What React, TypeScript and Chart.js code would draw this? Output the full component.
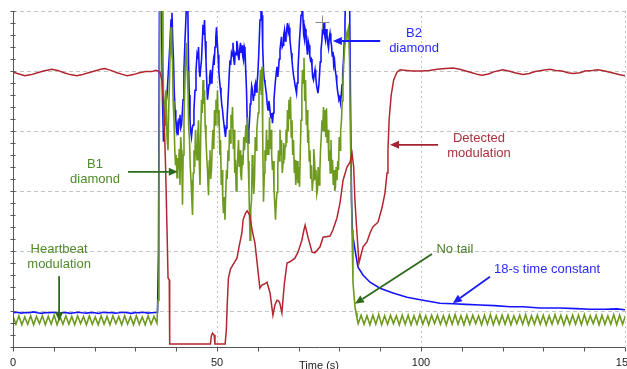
import React, { useEffect, useRef } from "react";
import { Chart, registerables } from "chart.js";

Chart.register(...registerables);

// ---------- axes ----------
const X_MIN = 0;
const X_MAX = 150;
const Y_MIN = -0.6;
const Y_MAX = 5;
const X_TICK_LABELS = [0, 50, 100, 150];
const X_MINOR_STEP = 10;
const Y_MINOR_STEP = 0.2;
const Y_GRID = [0, 1, 2, 3, 4, 5];
const X_GRID = [50, 100, 150];
const X_TITLE = "Time (s)";

// ---------- B1 diamond (green) ----------
const HEARTBEAT_STEP = 0.72;
const GREEN_PRE_START = 0;
const greenPre = [
  -0.09, -0.22, -0.08, -0.23, -0.1, -0.22, -0.08, -0.23, -0.09, -0.21,
  -0.08, -0.23, -0.09, -0.22, -0.07, -0.23, -0.09, -0.22, -0.08, -0.22,
  -0.09, -0.23, -0.08, -0.21, -0.09, -0.23, -0.08, -0.22, -0.1, -0.23,
  -0.08, -0.22, -0.09, -0.23, -0.08, -0.21, -0.09, -0.23, -0.08, -0.22,
  -0.09, -0.23, -0.08, -0.22, -0.1, -0.23, -0.08, -0.22, -0.09, -0.2,
];
const greenBurst: number[][] = [
  [35.54, 0.18], [35.78, 1.85], [36.03, 5.52], [36.52, 5.52], [36.76, 4.18], [36.95, 3.4], [37.13, 3.02],
  [37.3, 3.5], [37.5, 3.68], [37.75, 2.9], [37.99, 2.68], [38.15, 3.3], [38.36, 3.85], [38.55, 4.4],
  [38.73, 4.73], [38.9, 4.3], [39.09, 4.18], [39.25, 3.5], [39.46, 3.18], [39.65, 2.7], [39.83, 2.43],
  [40.0, 2.6], [40.2, 2.22], [40.38, 2.55], [40.56, 2.35], [40.75, 2.7], [40.93, 2.1], [41.1, 2.9],
  [41.3, 2.68], [41.42, 2.3], [41.54, 1.77], [41.7, 2.6], [41.91, 3.18], [42.1, 3.7], [42.28, 4.18],
  [42.52, 4.47], [42.7, 4.0], [42.89, 3.68], [43.05, 3.1], [43.26, 2.85], [43.45, 2.4], [43.63, 2.18],
  [43.8, 1.9], [44.0, 1.6], [44.18, 2.3], [44.36, 2.68], [44.55, 2.4], [44.73, 3.02], [44.9, 2.75],
  [45.1, 2.52], [45.3, 2.95], [45.47, 3.18], [45.65, 2.5], [45.83, 2.1], [46.0, 2.9], [46.2, 3.52],
  [46.4, 3.3], [46.57, 3.85], [46.75, 3.45], [46.94, 3.68], [47.1, 3.1], [47.3, 2.85], [47.5, 2.55],
  [47.67, 2.35], [47.8, 2.1], [47.92, 1.93], [48.1, 2.5], [48.28, 2.68], [48.45, 2.2], [48.65, 2.35],
  [48.85, 2.8], [49.02, 3.02], [49.2, 2.7], [49.39, 3.35], [49.55, 3.1], [49.75, 3.52], [49.95, 3.3],
  [50.12, 3.68], [50.3, 3.1], [50.49, 3.35], [50.7, 2.6], [50.86, 2.85], [51.05, 2.1], [51.23, 2.35],
  [51.4, 1.9], [51.59, 1.63], [51.78, 1.9], [51.96, 1.52], [52.15, 2.0], [52.33, 2.35], [52.5, 2.2],
  [52.7, 2.68], [52.9, 2.5], [53.06, 3.02], [53.25, 2.8], [53.43, 3.27], [53.6, 3.05], [53.8, 3.4],
  [54.0, 2.7], [54.17, 3.02], [54.35, 2.3], [54.53, 2.52], [54.7, 2.0], [54.9, 2.3], [55.1, 2.6],
  [55.27, 2.85], [55.45, 2.4], [55.64, 2.68], [55.8, 2.3], [56.0, 2.18], [56.2, 2.6], [56.37, 2.43],
  [56.55, 2.9], [56.74, 2.68], [56.9, 2.85], [57.11, 3.1], [57.3, 2.8], [57.48, 3.23], [57.65, 2.5],
  [57.84, 2.02], [58.09, 1.18], [58.28, 1.7], [58.46, 1.85], [58.65, 2.6], [58.82, 2.43], [59.0, 1.95],
  [59.19, 2.18], [59.38, 2.9], [59.56, 2.68], [59.75, 3.0], [59.93, 3.18], [60.1, 3.3], [60.29, 3.6],
  [60.5, 3.8], [60.66, 4.02], [60.85, 3.6], [61.03, 4.07], [61.2, 2.9], [61.4, 1.82], [61.6, 2.3],
  [61.76, 2.68], [61.95, 2.5], [62.13, 3.02], [62.3, 2.6], [62.5, 2.85], [62.7, 2.6], [62.87, 3.23],
  [63.05, 2.7], [63.24, 3.02], [63.4, 2.6], [63.6, 2.35], [63.8, 2.5], [63.97, 2.02], [64.15, 1.8],
  [64.34, 1.52], [64.5, 1.8], [64.71, 1.98], [64.9, 2.4], [65.07, 2.68], [65.25, 2.5], [65.44, 3.02],
  [65.6, 2.6], [65.81, 2.85], [66.0, 2.3], [66.18, 2.47], [66.35, 2.8], [66.54, 2.52], [66.7, 2.75],
  [66.91, 3.02], [67.1, 2.8], [67.28, 3.35], [67.45, 3.0], [67.65, 3.52], [67.85, 3.2], [68.01, 3.57],
  [68.2, 2.9], [68.38, 3.18], [68.55, 2.6], [68.75, 2.85], [68.95, 2.3], [69.12, 2.52], [69.3, 2.1],
  [69.49, 2.27], [69.65, 2.5], [69.85, 2.13], [70.05, 2.4], [70.22, 2.07], [70.4, 2.6], [70.59, 3.18],
  [70.8, 3.7], [70.96, 4.02], [71.15, 3.8], [71.32, 4.22], [71.5, 3.5], [71.69, 3.85], [71.9, 3.1],
  [72.06, 3.35], [72.25, 2.8], [72.43, 3.02], [72.6, 2.5], [72.79, 2.68], [72.95, 2.2], [73.16, 2.43],
  [73.35, 2.0], [73.53, 2.18], [73.7, 2.7], [73.9, 2.52], [74.1, 2.2], [74.26, 2.35], [74.45, 1.95],
  [74.63, 2.02], [74.8, 2.4], [75.0, 2.1], [75.2, 2.3], [75.37, 2.68], [75.55, 2.9], [75.74, 3.18],
  [75.9, 3.0], [76.1, 3.4], [76.3, 3.0], [76.47, 3.35], [76.65, 2.9], [76.84, 3.38], [77.0, 2.8],
  [77.21, 3.02], [77.4, 2.5], [77.57, 2.68], [77.75, 2.3], [77.94, 2.85], [78.1, 2.3], [78.31, 2.52],
  [78.5, 2.1], [78.68, 2.35], [78.85, 2.0], [79.04, 2.07], [79.2, 2.4], [79.41, 2.18], [79.6, 2.5],
  [79.78, 2.35], [79.95, 2.9], [80.15, 2.68], [80.3, 3.0], [80.51, 3.18], [80.7, 3.5], [80.88, 3.85],
  [81.05, 4.1], [81.25, 4.35], [81.45, 4.5], [81.62, 4.6], [81.8, 4.5], [81.99, 4.65], [82.23, 4.72],
  [82.48, 4.18], [82.72, 2.85], [83.09, 1.35], [83.33, 0.47], [83.82, 0.07], [84.07, -0.03], [84.31, -0.12],
];
const GREEN_POST_START = 84.6;
const greenPost = [
  -0.21, -0.07, -0.22, -0.08, -0.23, -0.07, -0.22, -0.06, -0.23, -0.08,
  -0.22, -0.07, -0.21, -0.08, -0.23, -0.07, -0.22, -0.07, -0.23, -0.08,
  -0.22, -0.06, -0.22, -0.08, -0.23, -0.07, -0.21, -0.07, -0.22, -0.08,
  -0.23, -0.07, -0.22, -0.06, -0.22, -0.08, -0.23, -0.07, -0.22, -0.07,
  -0.21, -0.08, -0.23, -0.07, -0.22, -0.06, -0.23, -0.08, -0.22, -0.07,
  -0.22, -0.07, -0.23, -0.08, -0.21, -0.07, -0.22, -0.06, -0.23, -0.08,
  -0.22, -0.07, -0.22, -0.07, -0.23, -0.08, -0.22, -0.06, -0.21, -0.07,
  -0.23, -0.08, -0.22, -0.07, -0.22, -0.07, -0.23, -0.06, -0.22, -0.08,
  -0.21, -0.07, -0.23, -0.07, -0.22, -0.08, -0.22, -0.06, -0.23, -0.07,
  -0.22, -0.08,
];

// ---------- B2 diamond (blue) ----------
const BLUE_PRE_START = 0;
const BLUE_PRE_STEP = 1;
const bluePre = [
  -0.03, -0.02, -0.035, -0.025, -0.03, -0.015, -0.03, -0.04, -0.025, -0.03,
  -0.02, -0.035, -0.03, -0.025, -0.04, -0.03, -0.02, -0.03, -0.035, -0.025,
  -0.03, -0.04, -0.02, -0.03, -0.025, -0.035, -0.03, -0.02, -0.03, -0.04,
  -0.025, -0.03, -0.02, -0.035, -0.03, -0.025,
];
const blueBurst: number[][] = [
  [35.42, -0.02], [35.66, 1.02], [35.91, 5.52], [36.27, 5.68], [36.64, 3.52], [36.89, 2.82], [37.05, 3.1],
  [37.25, 3.18], [37.5, 3.45], [37.75, 3.6], [38.0, 3.9], [38.24, 4.18], [38.5, 4.5], [38.73, 4.85],
  [38.97, 4.97], [39.15, 4.5], [39.34, 4.18], [39.5, 3.7], [39.71, 3.35], [39.9, 3.2], [40.07, 3.02],
  [40.25, 3.1], [40.44, 2.93], [40.7, 3.2], [40.93, 3.27], [41.1, 3.05], [41.3, 3.1], [41.5, 3.3],
  [41.67, 3.52], [41.9, 4.0], [42.16, 4.52], [42.52, 5.1], [42.77, 5.52], [43.01, 4.18], [43.2, 3.6],
  [43.38, 3.18], [43.55, 3.0], [43.75, 2.9], [43.95, 3.05], [44.12, 3.1], [44.35, 3.35], [44.61, 3.68],
  [44.85, 4.0], [45.1, 4.27], [45.3, 4.2], [45.47, 4.4], [45.65, 4.0], [45.83, 3.9], [46.0, 4.05],
  [46.2, 4.18], [46.4, 4.5], [46.57, 4.77], [46.75, 4.6], [46.94, 4.85], [47.1, 4.5], [47.3, 4.18],
  [47.5, 3.8], [47.67, 3.52], [47.85, 3.65], [48.04, 3.77], [48.2, 3.9], [48.41, 4.02], [48.6, 3.8],
  [48.77, 3.85], [48.95, 4.05], [49.14, 4.18], [49.3, 4.1], [49.51, 4.4], [49.7, 4.55], [49.88, 4.73],
  [50.05, 4.5], [50.25, 4.27], [50.45, 4.0], [50.61, 3.85], [50.8, 3.72], [50.98, 3.6], [51.15, 3.45],
  [51.35, 3.35], [51.55, 3.2], [51.72, 3.1], [51.9, 3.0], [52.08, 2.9], [52.25, 3.05], [52.45, 3.18],
  [52.65, 3.45], [52.82, 3.68], [53.0, 3.95], [53.19, 4.18], [53.35, 4.1], [53.55, 4.3], [53.75, 4.25],
  [53.92, 4.47], [54.1, 4.2], [54.29, 4.1], [54.45, 4.3], [54.66, 4.27], [54.85, 4.5], [55.02, 4.43],
  [55.2, 4.25], [55.39, 4.18], [55.55, 4.35], [55.76, 4.47], [55.95, 4.3], [56.13, 4.43], [56.3, 4.25],
  [56.5, 4.18], [56.7, 4.4], [56.86, 4.35], [57.05, 4.0], [57.23, 3.68], [57.4, 3.2], [57.6, 2.8],
  [57.8, 3.0], [57.97, 3.18], [58.15, 3.45], [58.33, 3.57], [58.5, 3.75], [58.7, 3.68], [58.9, 3.5],
  [59.07, 3.6], [59.25, 3.75], [59.44, 3.8], [59.6, 3.65], [59.8, 3.77], [60.0, 3.95], [60.17, 4.18],
  [60.35, 4.5], [60.54, 4.85], [60.78, 5.35], [61.03, 4.93], [61.2, 4.4], [61.4, 4.02], [61.6, 3.85],
  [61.76, 3.8], [61.95, 3.7], [62.13, 3.6], [62.3, 3.45], [62.5, 3.35], [62.7, 3.5], [62.87, 3.43],
  [63.05, 3.3], [63.24, 3.22], [63.4, 3.3], [63.6, 3.13], [63.8, 3.3], [63.97, 3.52], [64.15, 3.7],
  [64.34, 3.85], [64.5, 3.95], [64.71, 4.07], [64.9, 3.9], [65.07, 4.02], [65.25, 4.2], [65.44, 4.35],
  [65.6, 4.45], [65.81, 4.57], [66.0, 4.4], [66.18, 4.43], [66.35, 4.6], [66.54, 4.68], [66.7, 4.5],
  [66.91, 4.6], [67.1, 4.7], [67.28, 4.8], [67.45, 4.65], [67.65, 4.72], [67.85, 4.55], [68.01, 4.43],
  [68.2, 4.3], [68.38, 4.18], [68.55, 4.05], [68.75, 3.93], [68.95, 3.85], [69.12, 3.77], [69.3, 3.7],
  [69.49, 3.63], [69.65, 3.8], [69.85, 4.02], [70.05, 4.3], [70.22, 4.52], [70.4, 4.7], [70.59, 4.93],
  [70.83, 5.35], [71.08, 4.85], [71.25, 4.6], [71.45, 4.52], [71.6, 4.7], [71.81, 4.63], [72.0, 4.4],
  [72.18, 4.27], [72.35, 4.5], [72.55, 4.43], [72.75, 4.25], [72.92, 4.18], [73.1, 4.2], [73.28, 4.07],
  [73.45, 3.9], [73.65, 3.85], [73.85, 3.95], [74.02, 4.02], [74.2, 3.9], [74.39, 3.77], [74.55, 3.7],
  [74.75, 3.63], [74.95, 3.75], [75.12, 3.93], [75.3, 4.15], [75.49, 4.35], [75.7, 4.5], [75.86, 4.68],
  [76.05, 4.65], [76.23, 4.8], [76.4, 4.6], [76.59, 4.52], [76.8, 4.7], [76.96, 4.6], [77.15, 4.45],
  [77.33, 4.38], [77.5, 4.55], [77.7, 4.63], [77.9, 4.5], [78.06, 4.43], [78.25, 4.25], [78.43, 4.32],
  [78.6, 4.1], [78.8, 4.18], [79.0, 4.0], [79.17, 3.93], [79.35, 3.8], [79.53, 3.68], [79.7, 3.6],
  [79.9, 3.52], [80.1, 3.55], [80.27, 3.47], [80.45, 3.6], [80.64, 3.77], [80.8, 3.95], [81.0, 4.18],
  [81.2, 4.5], [81.37, 4.85], [81.62, 5.52], [82.11, 5.68], [82.48, 5.35], [82.72, 3.52], [82.97, 1.85],
  [83.21, 1.3], [83.82, 1.02], [84.56, 0.73], [85.78, 0.6], [87.5, 0.48], [89.95, 0.38],
  [93.14, 0.3], [96.57, 0.23], [100.49, 0.18], [104.66, 0.13], [107.84, 0.12], [111.0, 0.11],
  [114.46, 0.1], [118.0, 0.09], [121.81, 0.07], [125.0, 0.07], [129.17, 0.05], [134.07, 0.05],
  [138.0, 0.04], [141.42, 0.03], [145.0, 0.03], [148.0, 0.035], [150.0, 0.02],
];

// ---------- Detected modulation (red) ----------
const redTrace: number[][] = [
  [0, 3.98], [1.5, 3.95], [2.9, 3.92], [4.5, 3.94], [6, 3.97], [7.5, 4.0], [9.5, 4.03],
  [11, 4.01], [12.5, 3.97], [14, 3.94], [15.7, 3.92], [17, 3.94], [18.5, 3.97], [20, 4.0],
  [21.5, 4.03], [22.5, 4.04], [24, 4.01], [25.5, 3.97], [27, 3.94], [28, 3.92], [29.5, 3.94],
  [31, 3.97], [32.5, 3.99], [34, 3.99], [35, 4.01], [35.5, 4.0],
  [36.0, 3.98], [36.5, 3.85], [37.0, 3.3], [37.4, 2.4], [37.8, 1.2], [38.0, 0.55], [38.3, 0.52],
  [38.4, -0.55], [48.4, -0.55], [48.6, -0.42], [48.9, -0.37], [49.3, -0.4], [49.5, -0.55],
  [52.0, -0.55], [52.3, -0.3], [52.5, 0.1], [52.8, 0.55], [53.3, 0.7], [53.9, 0.77],
  [54.9, 0.88], [55.4, 1.07], [56.1, 1.3], [56.4, 1.52], [57.0, 1.63], [57.4, 1.67],
  [58.0, 1.6], [58.6, 1.35], [59.3, 1.13], [60.0, 0.7], [60.5, 0.38], [61.0, 0.43],
  [61.6, 0.45], [62.25, 0.48], [63.0, 0.3], [63.7, -0.07], [64.2, 0.1], [64.7, 0.18],
  [65.1, 0.17], [65.4, 0.13], [65.9, -0.03], [66.5, 0.45], [67.16, 0.8], [67.9, 0.82],
  [69.1, 0.88], [69.85, 0.98], [70.8, 1.18], [71.3, 1.35], [71.6, 1.43], [72.3, 1.23],
  [73.3, 0.98], [74.0, 0.97], [75.25, 1.07], [76.0, 1.23], [77.7, 1.25], [78.4, 1.35],
  [79.4, 1.55], [80.15, 1.8], [80.9, 2.18], [81.86, 2.4], [82.6, 2.48], [83.1, 2.63],
  [83.5, 2.4], [83.8, 1.85], [84.3, 1.3], [84.8, 0.8], [85.8, 1.07], [86.76, 1.15],
  [87.5, 1.3], [88.2, 1.4], [89.46, 1.48], [90.44, 1.72], [91.18, 1.97], [91.67, 2.3],
  [91.9, 2.68], [92.2, 3.2], [92.7, 3.6], [93.3, 3.85], [94.1, 3.98], [94.9, 4.02],
  [96.5, 4.01], [98, 4.0], [100, 4.0], [102, 4.01], [104, 4.03], [106, 4.04], [107.8, 4.05],
  [109.5, 4.03], [111, 4.0], [112.5, 3.97], [114, 3.94], [115, 3.93], [116.5, 3.95],
  [118, 3.99], [120, 4.02], [121.5, 4.0], [123, 3.97], [125, 3.94], [126.5, 3.96], [128, 3.99],
  [129.5, 4.01], [131.6, 4.03], [133, 4.01], [134.6, 4.0], [136, 3.97], [137.3, 3.96],
  [139, 3.97], [140.2, 4.0], [142, 4.01], [143.4, 4.02], [145, 4.0], [146.8, 3.97],
  [148.5, 3.94], [150, 3.92],
];

// ---------- annotations (data coordinates) ----------
const noteTexts = [
  { lines: ["B2", "diamond"], at: [98.3, 4.63], color: "#2a2aff" },
  { lines: ["Detected", "modulation"], at: [114.2, 2.88], color: "#a8323d" },
  { lines: ["B1", "diamond"], at: [20.1, 2.45], color: "#4f8a2b" },
  { lines: ["Heartbeat", "modulation"], at: [11.3, 1.03], color: "#4f8a2b" },
  { lines: ["No tail"], at: [108.3, 1.03], color: "#4a7d22" },
  { lines: ["18-s time constant"], at: [130.9, 0.7], color: "#2a2aff" },
];
const noteArrows = [
  { from: [90.0, 4.5], to: [78.4, 4.5], color: "#1a1aff" },
  { from: [104.2, 2.77], to: [92.4, 2.77], color: "#a5222e" },
  { from: [28.2, 2.32], to: [40.4, 2.32], color: "#2e6a1c" },
  { from: [11.3, 0.58], to: [11.3, -0.17], color: "#2e6a1c" },
  { from: [102.7, 0.95], to: [83.8, 0.12], color: "#2e6a1c" },
  { from: [116.9, 0.57], to: [107.8, 0.13], color: "#1a1aff" },
];
const cursorMark = [75.7, 4.82];

// ---------- styles ----------
const RED = "#b2262f";
const BLUE = "#1414ff";
const GREEN = "#6e9a1e";
const GRID_COLOR = "#c4c4c4";
const AXIS_COLOR = "#555555";
const FONT = '"Liberation Sans", Arial, sans-serif';

function seqPoints(start: number, step: number, values: number[]) {
  return values.map((y, i) => ({ x: +(start + i * step).toFixed(3), y }));
}
function pairPoints(pairs: number[][]) {
  return pairs.map(([x, y]) => ({ x, y }));
}

const redData = pairPoints(redTrace);
const greenData = [
  ...seqPoints(GREEN_PRE_START, HEARTBEAT_STEP, greenPre),
  ...pairPoints(greenBurst),
  ...seqPoints(GREEN_POST_START, HEARTBEAT_STEP, greenPost),
];
const blueData = [...seqPoints(BLUE_PRE_START, BLUE_PRE_STEP, bluePre), ...pairPoints(blueBurst)];

function drawArrow(ctx: CanvasRenderingContext2D, x1: number, y1: number, x2: number, y2: number, color: string) {
  const ang = Math.atan2(y2 - y1, x2 - x1);
  const head = 9;
  const half = 4;
  const bx = x2 - head * Math.cos(ang);
  const by = y2 - head * Math.sin(ang);
  ctx.save();
  ctx.strokeStyle = color;
  ctx.fillStyle = color;
  ctx.lineWidth = 1.8;
  ctx.beginPath();
  ctx.moveTo(x1, y1);
  ctx.lineTo(bx, by);
  ctx.stroke();
  ctx.beginPath();
  ctx.moveTo(x2, y2);
  ctx.lineTo(bx + half * Math.sin(ang), by - half * Math.cos(ang));
  ctx.lineTo(bx - half * Math.sin(ang), by + half * Math.cos(ang));
  ctx.closePath();
  ctx.fill();
  ctx.restore();
}

const decorPlugin = {
  id: "decor",
  beforeDatasetsDraw(chart: any) {
    const { ctx, chartArea: a, scales } = chart;
    const xs = scales.x;
    const ys = scales.y;
    ctx.save();
    ctx.strokeStyle = GRID_COLOR;
    ctx.lineWidth = 1;
    ctx.setLineDash([4, 3]);
    for (const v of Y_GRID) {
      const py = Math.round(ys.getPixelForValue(v)) + 0.5;
      ctx.beginPath();
      ctx.moveTo(a.left, py);
      ctx.lineTo(a.right, py);
      ctx.stroke();
    }
    ctx.setLineDash([2, 3]);
    for (const t of X_GRID) {
      const px = Math.round(xs.getPixelForValue(t)) + 0.5;
      ctx.beginPath();
      ctx.moveTo(px, a.top);
      ctx.lineTo(px, a.bottom);
      ctx.stroke();
    }
    ctx.restore();
  },
  afterDatasetsDraw(chart: any) {
    const { ctx, chartArea: a, scales } = chart;
    const xs = scales.x;
    const ys = scales.y;
    const X = (t: number) => xs.getPixelForValue(t);
    const Y = (v: number) => ys.getPixelForValue(v);
    ctx.save();
    ctx.strokeStyle = AXIS_COLOR;
    ctx.lineWidth = 1;
    const ax = Math.round(a.left) + 0.5;
    const ay = Math.round(a.bottom) + 0.5;
    ctx.beginPath();
    ctx.moveTo(ax, a.top);
    ctx.lineTo(ax, ay);
    ctx.lineTo(a.right, ay);
    ctx.stroke();
    const ny = Math.round((Y_MAX - Y_MIN) / Y_MINOR_STEP);
    for (let i = 0; i <= ny; i++) {
      const py = Math.round(Y(Y_MIN + i * Y_MINOR_STEP)) + 0.5;
      ctx.beginPath();
      ctx.moveTo(ax - 3, py);
      ctx.lineTo(ax + 2, py);
      ctx.stroke();
    }
    const nx = Math.round((X_MAX - X_MIN) / X_MINOR_STEP);
    for (let i = 0; i <= nx; i++) {
      const px = Math.round(X(X_MIN + i * X_MINOR_STEP)) + 0.5;
      ctx.beginPath();
      ctx.moveTo(px, ay);
      ctx.lineTo(px, ay + 4);
      ctx.stroke();
    }
    ctx.fillStyle = "#222";
    ctx.font = `11px ${FONT}`;
    ctx.textAlign = "center";
    ctx.textBaseline = "alphabetic";
    for (const t of X_TICK_LABELS) {
      ctx.fillText(String(t), X(t), a.bottom + 19);
    }
    ctx.fillText(X_TITLE, (a.left + a.right) / 2, a.bottom + 22);
    ctx.strokeStyle = "#8a8a8a";
    const cx = Math.round(X(cursorMark[0])) + 0.5;
    const cy = Math.round(Y(cursorMark[1])) + 0.5;
    ctx.beginPath();
    ctx.moveTo(cx - 7, cy);
    ctx.lineTo(cx + 7, cy);
    ctx.moveTo(cx, cy - 7);
    ctx.lineTo(cx, cy + 7);
    ctx.stroke();
    ctx.restore();
    for (const ar of noteArrows) {
      drawArrow(ctx, X(ar.from[0]), Y(ar.from[1]), X(ar.to[0]), Y(ar.to[1]), ar.color);
    }
    ctx.save();
    ctx.font = `13px ${FONT}`;
    ctx.textAlign = "center";
    ctx.textBaseline = "middle";
    for (const n of noteTexts) {
      ctx.fillStyle = n.color;
      n.lines.forEach((line, i) => {
        ctx.fillText(line, X(n.at[0]), Y(n.at[1]) + i * 15.5);
      });
    }
    ctx.restore();
  },
};

export default function App() {
  const ref = useRef<HTMLCanvasElement>(null);
  useEffect(() => {
    const canvas = ref.current;
    if (!canvas) return;
    const common = { pointRadius: 0, tension: 0, fill: false };
    const chart = new Chart(canvas, {
      type: "line",
      data: {
        datasets: [
          { label: "Detected modulation", data: redData, borderColor: RED, borderWidth: 1.5, ...common },
          { label: "B1 diamond", data: greenData, borderColor: GREEN, borderWidth: 1.6, ...common },
          { label: "B2 diamond", data: blueData, borderColor: BLUE, borderWidth: 1.6, ...common },
        ],
      },
      options: {
        responsive: false,
        animation: false,
        devicePixelRatio: 1,
        events: [],
        layout: { padding: { left: 13, top: 11, right: 2, bottom: 22 } },
        scales: {
          x: { type: "linear", display: false, min: X_MIN, max: X_MAX },
          y: { type: "linear", display: false, min: Y_MIN, max: Y_MAX },
        },
        plugins: { legend: { display: false }, tooltip: { enabled: false } },
      },
      plugins: [decorPlugin],
    } as any);
    return () => chart.destroy();
  }, []);
  return (
    <div style={{ position: "fixed", left: 0, top: 0, width: 627, height: 369, background: "#fff", overflow: "hidden" }}>
      <canvas ref={ref} width={627} height={369} style={{ display: "block", width: 627, height: 369 }} />
    </div>
  );
}
